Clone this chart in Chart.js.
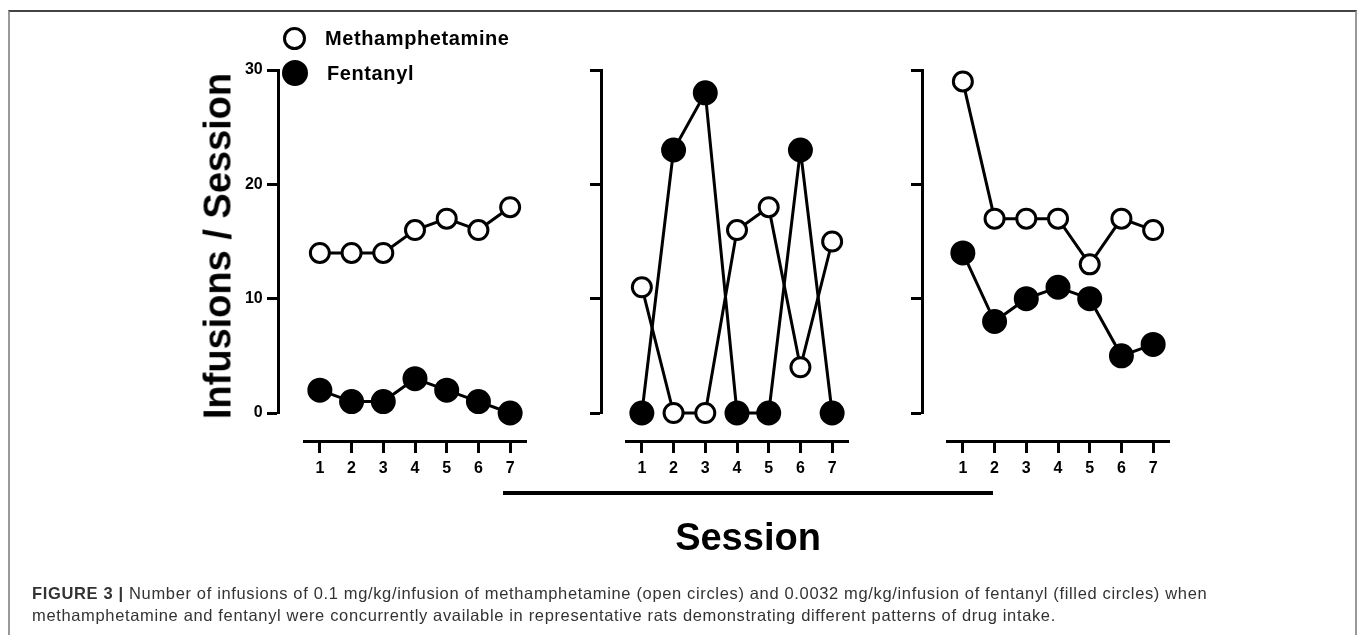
<!DOCTYPE html>
<html>
<head>
<meta charset="utf-8">
<script src="https://cdn.jsdelivr.net/npm/chart.js@4.4.1/dist/chart.umd.min.js"></script>
<style>
  body { margin: 0; background: #fff; }
  #wrap { position: relative; width: 1357px; height: 635px; overflow: hidden; font-family: "Liberation Sans", Arial, sans-serif; }
  #wrap canvas { position: absolute; left: 0; top: 0; }
  .frame { position: absolute; left: 8px; top: 10px; width: 1345px; height: 640px; border-top: 2px solid #444; border-left: 2px solid #999; border-right: 2px solid #999; }
  .legend-item { position: absolute; left: 282px; height: 26px; display: flex; align-items: center; font-weight: bold; font-size: 20px; letter-spacing: 0.6px; color: #000; }
  .dot { box-sizing: border-box; border-radius: 50%; border: 3px solid #000; margin-right: 19px; }
  .ytitle { position: absolute; left: 218px; top: 246px; transform: translate(-50%, -50%) rotate(-90deg); font-weight: bold; font-size: 38px; white-space: nowrap; color: #000; }
  .xtitle { position: absolute; left: 748px; top: 537px; transform: translate(-50%, -50%); font-weight: bold; font-size: 38px; color: #000; }
  .bar { position: absolute; left: 503px; top: 491px; width: 490px; height: 4px; background: #000; }
  .caption { position: absolute; left: 32px; top: 582px; font-size: 16.5px; letter-spacing: 0.65px; line-height: 22px; color: #333; white-space: nowrap; }
</style>
</head>
<body>
<div id="wrap">
  <div class="frame"></div>
  <canvas id="panelA" width="1357" height="635"></canvas>
  <canvas id="panelB" width="1357" height="635"></canvas>
  <canvas id="panelC" width="1357" height="635"></canvas>
  <div class="legend-item" style="top:25px"><span class="dot" style="width:23px;height:23px;margin-left:1px;background:#fff"></span>Methamphetamine</div>
  <div class="legend-item" style="top:60px"><span class="dot" style="width:26px;height:26px;background:#000"></span>Fentanyl</div>
  <div class="ytitle">Infusions / Session</div>
  <div class="bar"></div>
  <div class="xtitle">Session</div>
  <div class="caption"><b>FIGURE 3 |</b> Number of infusions of 0.1 mg/kg/infusion of methamphetamine (open circles) and 0.0032 mg/kg/infusion of fentanyl (filled circles) when<br>methamphetamine and fentanyl were concurrently available in representative rats demonstrating different patterns of drug intake.</div>
</div>
<script>
const sessions = [1, 2, 3, 4, 5, 6, 7];
const yTicks = [0, 10, 20, 30];

const methA = [14, 14, 14, 16, 17, 16, 18];
const fentA = [2, 1, 1, 3, 2, 1, 0];
const methB = [11, 0, 0, 16, 18, 4, 15];
const fentB = [0, 23, 28, 0, 0, 23, 0];
const methC = [29, 17, 17, 17, 13, 17, 16];
const fentC = [14, 8, 10, 11, 10, 5, 6];

const FONT = '"Liberation Sans", Arial, sans-serif';

// pixel box of each panel's data area, plus where the detached y axis sits
const panels = [
  { id: 'panelA', meth: methA, fent: fentA, left: 304, right: 526, yAxisAt: -0.31, labels: true },
  { id: 'panelB', meth: methB, fent: fentB, left: 626, right: 848, yAxisAt: -0.26, labels: false },
  { id: 'panelC', meth: methC, fent: fentC, left: 947, right: 1169, yAxisAt: -0.28, labels: false }
];

function makePanel(p) {
  const toPoints = vals => sessions.map((s, i) => ({ x: s, y: vals[i] }));
  const tickMarks = { drawOnChartArea: false, drawTicks: true, tickLength: 10, tickWidth: 3, color: '#000' };
  const tickFont = { family: FONT, size: 16, weight: 'bold' };
  const setY = scale => { scale.ticks = yTicks.map(v => ({ value: v })); };

  new Chart(document.getElementById(p.id), {
    type: 'line',
    data: {
      datasets: [
        {
          label: 'Methamphetamine',
          data: toPoints(p.meth),
          borderColor: '#000',
          borderWidth: 3,
          pointRadius: 9.5,
          pointBorderWidth: 3,
          pointBackgroundColor: '#fff',
          pointBorderColor: '#000',
          tension: 0,
          clip: false
        },
        {
          label: 'Fentanyl',
          data: toPoints(p.fent),
          borderColor: '#000',
          borderWidth: 3,
          pointRadius: 11.5,
          pointBorderWidth: 2,
          pointBackgroundColor: '#000',
          pointBorderColor: '#000',
          tension: 0,
          clip: false
        }
      ]
    },
    options: {
      responsive: false,
      animation: false,
      events: [],
      layout: { padding: { left: p.left, right: 1357 - p.right, top: 70, bottom: 635 - 413 } },
      plugins: { legend: { display: false }, tooltip: { enabled: false } },
      scales: {
        x: {
          type: 'linear',
          min: 0.5,
          max: 7.5,
          position: { y: -2.45 },
          afterBuildTicks: scale => { scale.ticks = sessions.map(v => ({ value: v })); },
          grid: tickMarks,
          border: { display: true, width: 3, color: '#000' },
          ticks: { color: '#000', font: tickFont, padding: 8, maxRotation: 0 }
        },
        y: {
          type: 'linear',
          min: 0,
          max: 30,
          position: { x: p.yAxisAt },
          afterBuildTicks: setY,
          grid: tickMarks,
          border: { display: true, width: 3, color: '#000' },
          ticks: { display: false }
        },
        // label-only axis, set a little left of the y axis line
        yLabels: {
          type: 'linear',
          axis: 'y',
          display: p.labels,
          min: 0,
          max: 30,
          position: { x: p.yAxisAt - 0.49 },
          afterBuildTicks: setY,
          grid: { display: false },
          border: { display: false },
          ticks: { color: '#000', font: tickFont }
        }
      }
    }
  });
}

panels.forEach(makePanel);
</script>
</body>
</html>
